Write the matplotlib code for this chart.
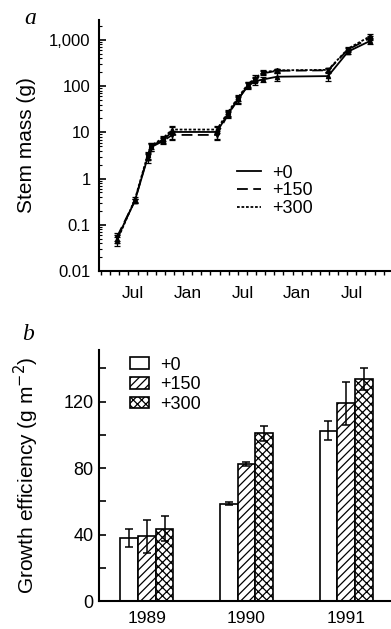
import matplotlib
matplotlib.use('Agg')
import matplotlib.pyplot as plt
import numpy as np
from matplotlib.ticker import FixedLocator, NullFormatter, LogLocator
from matplotlib.lines import Line2D

plt.rcParams['font.family'] = ['Liberation Sans', 'DejaVu Sans']
plt.rcParams['hatch.linewidth'] = 0.9

# ---------------- Panel a data (x in months from Jan 1989) ----------------
months = [4.75, 6.7, 8.1, 8.5, 9.8, 10.8, 15.7, 16.9, 18.0, 19.1, 19.9, 20.8, 22.3, 27.9, 30.1, 32.5]
mass_0 = [0.05, 0.33, 2.8, 5.0, 7.0, 10.2, 10.2, 25, 52, 100, 128, 140, 160, 165, 560, 950]
mass_150 = [0.055, 0.33, 3.0, 4.8, 6.5, 8.8, 8.8, 24, 50, 105, 140, 190, 215, 220, 620, 1100]
mass_300 = [0.045, 0.35, 3.2, 5.2, 7.5, 11.5, 11.5, 27, 56, 110, 150, 200, 220, 225, 650, 1200]
err_0 = [0.01, 0.04, 0.6, 1.0, 1.0, 3.0, 3.0, 4, 8, 15, 20, 20, 30, 35, 60, 120]
err_150 = [0.01, 0.04, 0.5, 0.8, 1.0, 2.0, 2.0, 4, 8, 15, 20, 20, 20, 25, 60, 120]
err_300 = [0.01, 0.04, 0.5, 0.8, 1.0, 2.0, 2.0, 4, 8, 15, 20, 20, 20, 25, 60, 120]
month_label_pos = [6.5, 12.5, 18.5, 24.5, 30.5]
month_labels = ['Jul', 'Jan', 'Jul', 'Jan', 'Jul']
month_ticks = list(range(3, 35))
ytick_vals = [0.01, 0.1, 1, 10, 100, 1000]
ytick_labels = ['0.01', '0.1', '1', '10', '100', '1,000']
series_a = ['+0', '+150', '+300']

# ---------------- Panel b data ----------------
years = ['1989', '1990', '1991']
eff_0 = [38, 58.5, 102.5]
eff_150 = [39, 82.5, 119]
eff_300 = [43.5, 101, 133.5]
eff_err_0 = [5.5, 1.0, 5.5]
eff_err_150 = [10, 1.0, 13]
eff_err_300 = [7.5, 4.5, 6.5]
series_b = ['+0', '+150', '+300']

W, H = 391, 629
fig = plt.figure(figsize=(W / 100, H / 100), dpi=100)

def px_axes(left, top, right, bottom):
    return fig.add_axes([left / W, 1 - bottom / H, (right - left) / W, (bottom - top) / H])

# ---------------- Panel a ----------------
ax = px_axes(99, 20, 391, 271)
styles = [('-', '^'), ((0, (6, 3)), 'v'), ((0, (1.5, 1)), '^')]
for vals, errs, (ls, mk), lab in zip([mass_0, mass_150, mass_300], [err_0, err_150, err_300], styles, series_a):
    ax.errorbar(months, vals, yerr=errs, color='black', lw=1.3, ls=ls, marker=mk, ms=3,
                capsize=2, elinewidth=0.9, capthick=0.9, label=lab)
ax.set_yscale('log')
ax.set_ylim(0.01, 2700)
ax.set_xlim(2.77, 34.8)
for s in ['top', 'right']:
    ax.spines[s].set_visible(False)
for s in ['left', 'bottom']:
    ax.spines[s].set_linewidth(1.5)
ax.yaxis.set_major_locator(FixedLocator(ytick_vals))
ax.set_yticklabels(ytick_labels)
ax.yaxis.set_minor_locator(LogLocator(base=10, subs=np.arange(2, 10)))
ax.yaxis.set_minor_formatter(NullFormatter())
ax.tick_params(axis='y', which='major', direction='in', length=5, width=1.2, labelsize=12, pad=6)
ax.tick_params(axis='y', which='minor', direction='in', length=2.5, width=0.8)
ax.xaxis.set_major_locator(FixedLocator(month_label_pos))
ax.set_xticklabels(month_labels)
ax.xaxis.set_minor_locator(FixedLocator(month_ticks))
ax.tick_params(axis='x', which='major', length=0, labelsize=12.5, pad=11)
ax.tick_params(axis='x', which='minor', direction='out', length=3, width=1)
ax.set_ylabel('Stem mass (g)', fontsize=15, va='center')
ax.yaxis.set_label_coords(-0.25, 0.5)
handles = [Line2D([], [], color='black', lw=1.3, ls=ls) for ls, _ in styles]
ax.legend(handles, series_a, loc='upper left', bbox_to_anchor=(0.44, 0.46), frameon=False,
          fontsize=13, handlelength=1.35, handletextpad=0.6, labelspacing=0.05, borderpad=0)

# ---------------- Panel b ----------------
bx = px_axes(99, 350, 391, 601)
x = np.arange(len(years))
bw = 0.178
hatches = ['', '////', 'xxxx']
for i, (vals, errs, h, lab) in enumerate(zip([eff_0, eff_150, eff_300],
                                              [eff_err_0, eff_err_150, eff_err_300], hatches, series_b)):
    bx.bar(x + (i - 1) * bw, vals, width=bw, facecolor='white', edgecolor='black', linewidth=1.2,
           hatch=h, label=lab)
    bx.errorbar(x + (i - 1) * bw, vals, yerr=errs, fmt='none', ecolor='black', elinewidth=1.1,
                capsize=3, capthick=1.1)
bx.set_xlim(-0.48, 2.45)
bx.set_ylim(0, 151)
for s in ['top', 'right']:
    bx.spines[s].set_visible(False)
for s in ['left', 'bottom']:
    bx.spines[s].set_linewidth(1.5)
bx.set_yticks([0, 40, 80, 120])
bx.yaxis.set_minor_locator(FixedLocator([20, 60, 100, 140]))
bx.tick_params(axis='y', which='both', direction='in', length=5, width=1.2, labelsize=13, pad=4)
bx.set_xticks(x)
bx.set_xticklabels(years)
bx.tick_params(axis='x', length=0, labelsize=12.5, pad=7.5)
bx.set_ylabel('Growth efficiency (g m$^{-2}$)', fontsize=15, va='center')
bx.yaxis.set_label_coords(-0.25, 0.5)
bx.legend(loc='upper left', bbox_to_anchor=(0.075, 1.01), frameon=False, fontsize=13,
          handlelength=1.05, handleheight=0.6, handletextpad=0.6, labelspacing=0.15, borderpad=0)

# panel letters
fig.text(30 / W, 1 - 24 / H, 'a', family='Liberation Serif', style='italic', fontsize=17,
         ha='center', va='baseline')
fig.text(28 / W, 1 - 340 / H, 'b', family='Liberation Serif', style='italic', fontsize=17,
         ha='center', va='baseline')

fig.savefig('out.png', dpi=100)
